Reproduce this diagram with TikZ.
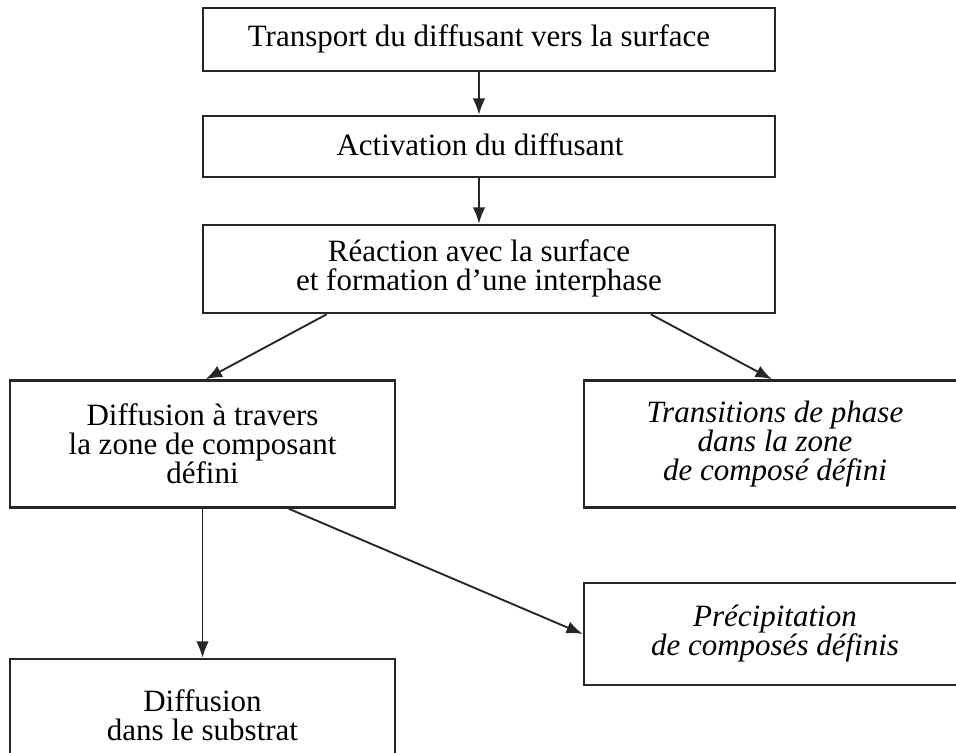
\documentclass[tikz,border=0pt]{standalone}
\usepackage{fontspec}
\setmainfont{Liberation Serif}
\usetikzlibrary{arrows.meta}
\begin{document}
\begin{tikzpicture}[x=0.4pt,y=-0.4pt,
  box/.style={draw=black!85,line width=1pt,inner sep=0pt,minimum width=#1},
  lbl/.style={align=center,inner sep=0pt,font=\fontsize{12.4}{11.6}\selectfont},
  arr/.style={draw=black!85,line width=0.75pt,-{Latex[length=6.5pt,width=5pt]}}]
\clip (0,0) rectangle (956,753);
% boxes
\node[box=228.8pt,minimum height=25.2pt] (b1) at (489,39.5) {};
\node[box=228.8pt,minimum height=24.4pt] (b2) at (489,146.5) {};
\node[box=228.8pt,minimum height=35.2pt] (b3) at (489,269) {};
\node[box=154pt,minimum height=50.8pt,lbl] (b4) at (202.5,444) {Diffusion à travers\\la zone de composant\\défini};
\node[box=152.8pt,minimum height=50.8pt,lbl,font=\fontsize{12.4}{11.6}\selectfont\itshape] (b5) at (775,444) {Transitions de phase\\dans la zone\\de composé défini};
\node[box=152.8pt,minimum height=40.8pt,lbl,font=\fontsize{12.4}{11.6}\selectfont\itshape] (b6) at (775,634) {Précipitation\\de composés définis};
\node[box=154pt,minimum height=44.8pt,lbl] (b7) at (202.5,715) {Diffusion\\dans le substrat};
% texts of the upper boxes
\node[lbl] (t1) at (479,39) {Transport du diffusant vers la surface};
\node[lbl] (t2) at (480,145) {Activation du diffusant};
\node[lbl] (t3) at (479,268) {Réaction avec la surface\\et formation d’une interphase};
% connectors
\draw[arr] ([xshift=-4pt]b1.south) -- ([xshift=-4pt]b2.north);
\draw[arr] ([xshift=-4pt]b2.south) -- ([xshift=-4pt]b3.north);
\draw[arr] ([xshift=50pt]b3.south west) -- ([xshift=78.8pt]b4.north west);
\draw[arr] ([xshift=179.6pt]b3.south west) -- ([xshift=75.6pt]b5.north west);
\draw[arr] (b4.south) -- (b7.north);
\draw[arr] ([xshift=112pt]b4.south west) -- (b6.west);
\end{tikzpicture}
\end{document}
